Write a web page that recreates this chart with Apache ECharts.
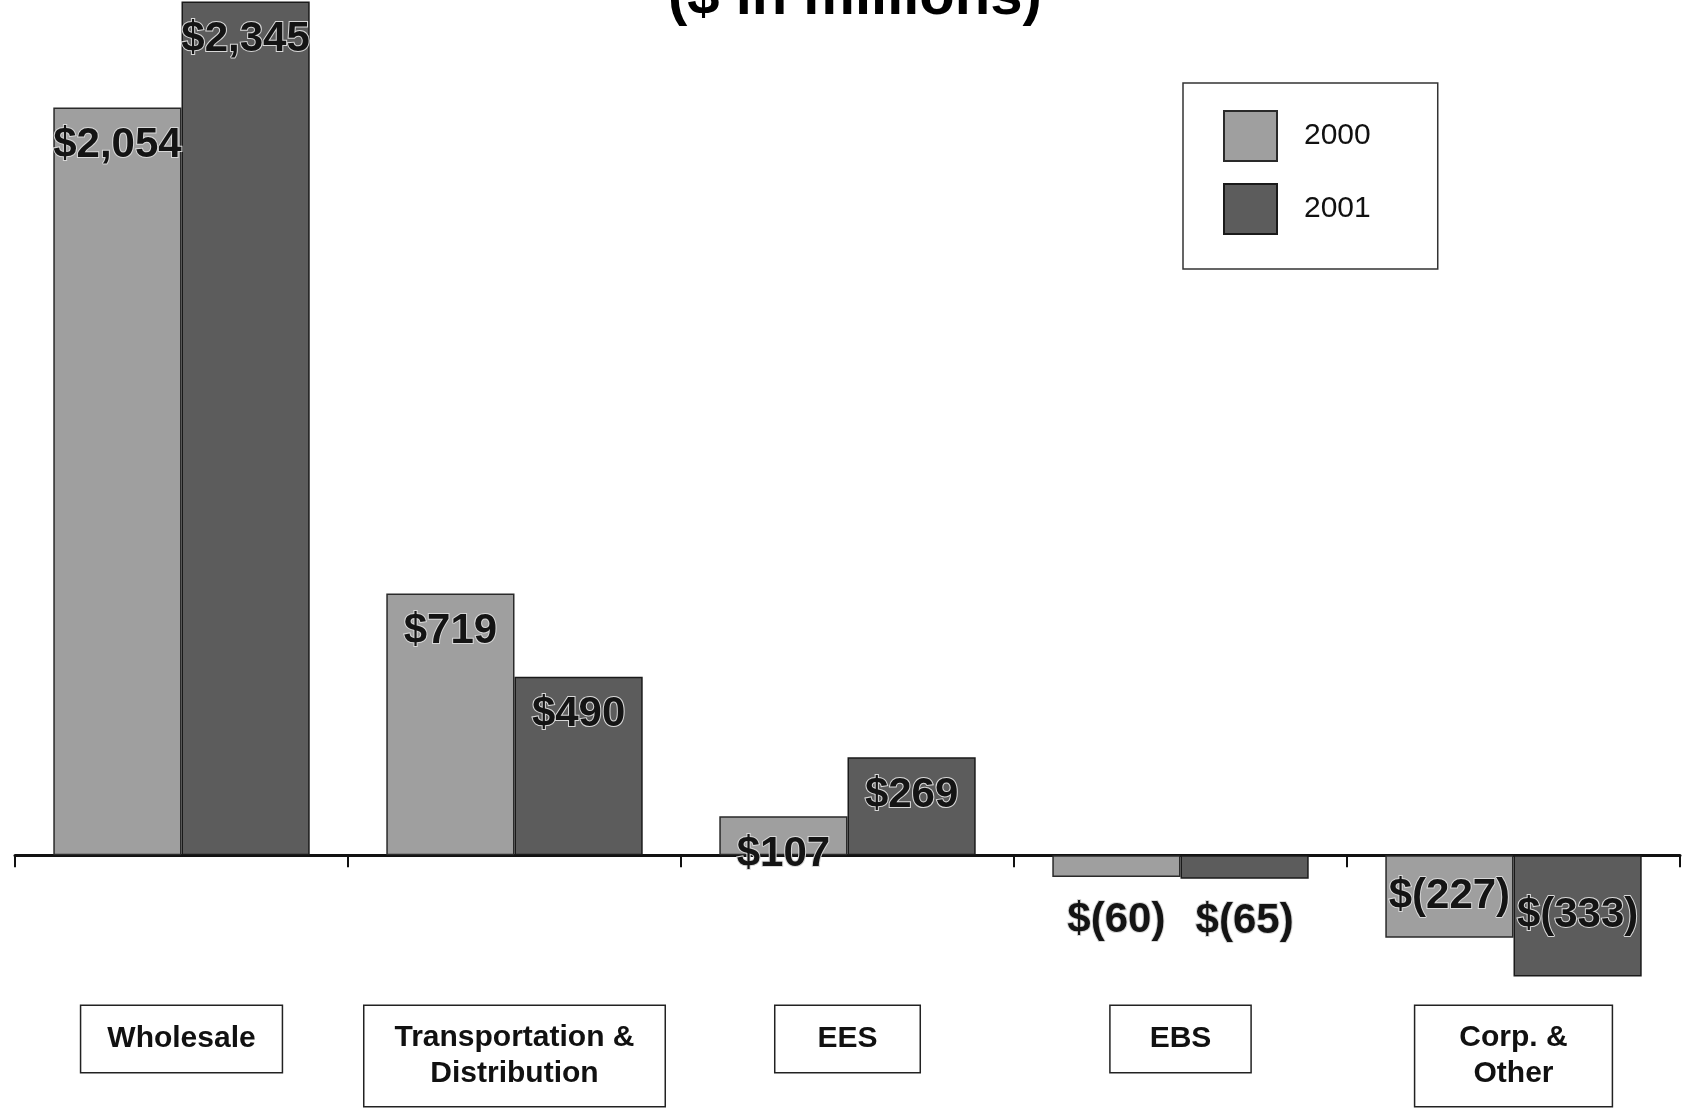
<!DOCTYPE html>
<html>
<head>
<meta charset="utf-8">
<style>
  html, body { margin: 0; padding: 0; background: #ffffff; }
  #chart { width: 1685px; height: 1118px; }
</style>
<script src="https://cdn.jsdelivr.net/npm/echarts@6/dist/echarts.min.js"></script>
</head>
<body>
<div id="chart"></div>
<script>
// ---- data ----
const titleText = '($ in millions)';
const categories = ['Wholesale', 'Transportation &\nDistribution', 'EES', 'EBS', 'Corp. &\nOther'];
const seriesNames = ['2000', '2001'];
const values2000 = [2054, 719, 107, -60, -227];
const values2001 = [2345, 490, 269, -65, -333];

// ---- styling (kept separate from data) ----
const catPadding = [[15, 26], [14, 30], [15, 42], [15, 39], [14, 44]];
const fontFamily = '"Liberation Sans", Arial, sans-serif';

function fmt(v) {
  const s = Math.abs(v).toLocaleString('en-US');
  return v < 0 ? '$(' + s + ')' : '$' + s;
}

function labelFor(v) {
  let position = 'insideTop';
  let distance = 17;
  if (v < 0 && v > -100) { position = 'bottom'; distance = 22; }
  else if (v < 0) { position = 'inside'; distance = 5; }
  return { show: true, position: position, distance: distance };
}

function makeData(arr) {
  return arr.map(v => ({ value: v, label: labelFor(v) }));
}

const chart = echarts.init(document.getElementById('chart'), null, { renderer: 'canvas' });

const labelStyle = {
  show: true,
  formatter: p => fmt(p.value),
  fontFamily: fontFamily,
  fontWeight: 'bold',
  fontSize: 42,
  color: '#141414',
  textBorderColor: '#d8d8d8',
  textBorderWidth: 2
};

const option = {
  backgroundColor: '#ffffff',
  animation: false,
  title: {
    text: titleText,
    left: 663,
    top: -36,
    textStyle: { fontFamily: fontFamily, fontWeight: 'bold', fontSize: 58, color: '#000' }
  },
  legend: {
    orient: 'vertical',
    left: 1183,
    top: 83,
    padding: [27, 67, 34, 40],
    itemWidth: 53,
    itemHeight: 50,
    itemGap: 21,
    icon: 'rect',
    borderColor: '#333',
    borderWidth: 1.5,
    data: seriesNames,
    textStyle: { fontFamily: fontFamily, fontSize: 30, color: '#111', padding: [0, 0, 0, 22] }
  },
  grid: { left: 15, right: 5, top: 0, bottom: 0, containLabel: false, outerBoundsMode: 'none' },
  xAxis: {
    type: 'category',
    data: categories.map((c, i) => ({
      value: c,
      textStyle: { padding: catPadding[i] }
    })),
    axisLine: { onZero: true, lineStyle: { color: '#111', width: 3 } },
    axisTick: { show: true, inside: false, length: 12, lineStyle: { color: '#111', width: 2 } },
    axisLabel: {
      margin: -112,
      interval: 0,
      fontFamily: fontFamily,
      fontWeight: 'bold',
      fontSize: 30,
      lineHeight: 36,
      color: '#111',
      borderColor: '#222',
      borderWidth: 1.5,
      backgroundColor: '#fff'
    },
    splitLine: { show: false }
  },
  yAxis: {
    type: 'value',
    min: -722,
    max: 2349,
    show: false,
    splitLine: { show: false }
  },
  series: [
    {
      name: seriesNames[0],
      type: 'bar',
      data: makeData(values2000),
      barGap: '0%',
      barCategoryGap: '23%',
      itemStyle: { color: '#9f9f9f', borderColor: '#2a2a2a', borderWidth: 1.5 },
      label: labelStyle
    },
    {
      name: seriesNames[1],
      type: 'bar',
      data: makeData(values2001),
      barGap: '0%',
      barCategoryGap: '23%',
      itemStyle: { color: '#5c5c5c', borderColor: '#1a1a1a', borderWidth: 1.5 },
      label: labelStyle
    }
  ]
};

chart.setOption(option);
</script>
</body>
</html>
